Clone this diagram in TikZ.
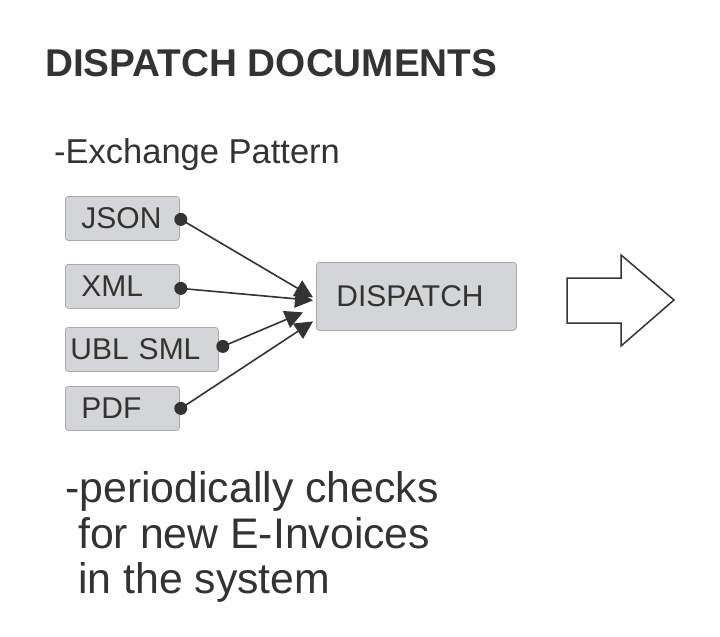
\documentclass[tikz,border=0pt]{standalone}
\usepackage{fontspec}
\setmainfont{Liberation Sans}
\usetikzlibrary{arrows.meta,calc}
\definecolor{ink}{HTML}{333333}
\definecolor{boxfill}{HTML}{D4D5D7}
\definecolor{boxline}{HTML}{A9A9AB}
\tikzset{
  box/.style={draw=boxline, line width=0.8pt, fill=boxfill, rounded corners=3pt,
    text=ink, font=\fontsize{30}{34}\selectfont, minimum height=44pt, inner ysep=0pt,
    align=left, anchor=north west},
  conn/.style={draw=ink, line width=1.6pt, -{Triangle[length=18pt,width=18pt]}},
  dot/.style={fill=ink},
  txt/.style={text=ink, anchor=base west, inner sep=0pt}
}
\begin{document}
\begin{tikzpicture}[x=1pt,y=-1pt]
\fill[white] (0,0) rectangle (720,637);
\useasboundingbox (0,0) rectangle (720,637);
\node[txt, font=\fontsize{38.7}{44}\selectfont\bfseries] (title) at (45,76) {DISPATCH DOCUMENTS};
\node[txt, font=\fontsize{34.5}{40}\selectfont] (pattern) at (54,163) {-Exchange Pattern};
\node[box, inner xsep=16pt, text width=82pt] (json) at (65,196) {JSON};
\node[box, inner xsep=16pt, text width=82pt] (xml) at (65,264) {XML};
\node[box, inner xsep=5pt, text width=143pt] (ubl) at (65,327) {UBL SML};
\node[box, inner xsep=16pt, text width=82pt] (pdf) at (65,386) {PDF};
\node[box, align=left, inner xsep=20pt, text width=160pt, minimum height=68pt] (dispatch) at (316,262) {DISPATCH};
% connectors
\draw[conn] ($(json.east)+(1,1)$) -- ($(dispatch.west)+(-3,1)$);
\draw[conn] ($(xml.east)+(1,2)$) -- ($(dispatch.west)+(-3,4)$);
\draw[conn] ($(ubl.east)+(4,-3)$) -- ($(dispatch.west)+(-13,16)$);
\draw[conn] ($(pdf.east)+(1,0)$) -- ($(dispatch.west)+(-3,25)$);
\fill[dot] ($(json.east)+(1,1)$) circle (6.5pt);
\fill[dot] ($(xml.east)+(1,2)$) circle (6.5pt);
\fill[dot] ($(ubl.east)+(4,-3)$) circle (6.5pt);
\fill[dot] ($(pdf.east)+(1,0)$) circle (6.5pt);
% big arrow
\draw[ink, line width=1.5pt, fill=white, line join=miter]
  (567,278) -- (621,278) -- (621,255) -- (674,300) -- (621,346) -- (621,323) -- (567,323) -- cycle;
% bottom text
\node[txt, font=\fontsize{42.8}{46}\selectfont] (line1) at (65,502) {-periodically checks};
\node[txt, font=\fontsize{42.8}{46}\selectfont] (line2) at (78,548) {for new E-Invoices};
\node[txt, font=\fontsize{42.8}{46}\selectfont] (line3) at (78,593) {in the system};
\end{tikzpicture}
\end{document}
